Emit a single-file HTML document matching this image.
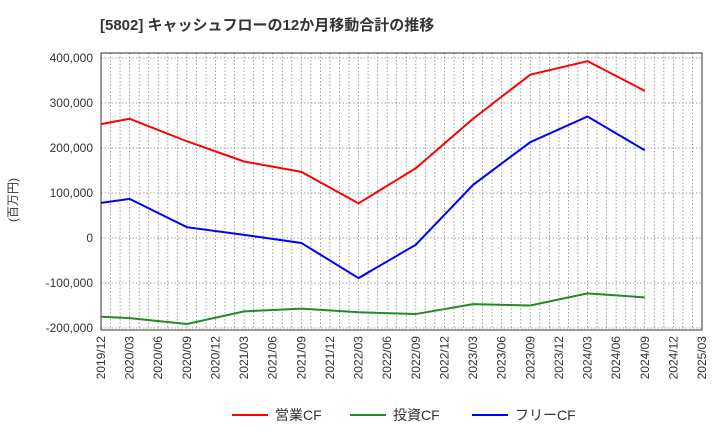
<!DOCTYPE html>
<html><head><meta charset="utf-8"><style>
body{margin:0;background:#fff;font-family:"Liberation Sans","Noto Sans CJK JP",sans-serif;}
</style></head><body>
<svg width="720" height="440" xmlns="http://www.w3.org/2000/svg" font-family="Liberation Sans, Noto Sans CJK JP, sans-serif">
<text x="100" y="30" font-size="15" font-weight="bold" fill="#333">[5802]  キャッシュフローの12か月移動合計の推移</text>
<g id="grid"></g><g id="axes"></g><g id="series"></g><g id="legend"></g>
</svg>
<script>
const categories=["2019/12","2020/03","2020/06","2020/09","2020/12","2021/03","2021/06","2021/09","2021/12","2022/03","2022/06","2022/09","2022/12","2023/03","2023/06","2023/09","2023/12","2024/03","2024/06","2024/09","2024/12","2025/03"];
const dataIdx=[0,1,3,5,7,9,11,13,15,17,19];
const operatingCF=[253000,265000,215000,170000,147000,77000,155000,265000,363000,393000,327000];
const investingCF=[-175000,-178000,-191000,-163000,-157000,-165000,-169000,-147000,-150000,-123000,-132000];
const freeCF=[78000,87000,24000,7000,-11000,-89000,-15000,118000,213000,270000,195000];
const yTicks=[400000,300000,200000,100000,0,-100000,-200000];
const seriesNames=["営業CF","投資CF","フリーCF"];
const colors=["#ff0000","#228b22","#0000ff"];
const NS="http://www.w3.org/2000/svg";
const L=101,R=702,T=53,B=330;
const X=i=>L+(R-L)*i/21;
const Y=v=>238-v*0.00045;
function mk(tag,attrs,parent){const e=document.createElementNS(NS,tag);for(const k in attrs)e.setAttribute(k,attrs[k]);document.getElementById(parent).appendChild(e);return e;}
for(let m=1;m<63;m++){const x=L+(R-L)*m/63;
const g=mk('line',{x1:x,x2:x,y1:T,y2:B,stroke:'#888','stroke-width':0.8,'stroke-dasharray':'1.5,2'},'grid');

}
yTicks.forEach(v=>{const y=Y(v);
const g=mk('line',{x1:L,x2:R,y1:y,y2:y,stroke:'#888','stroke-width':0.8,'stroke-dasharray':'1.5,2'},'grid');


const t=mk('text',{x:L-8,y:y+4,'text-anchor':'end','font-size':12,fill:'#333'},'axes');t.textContent=v.toLocaleString('en-US');

});
const fr=mk('rect',{x:L,y:T,width:R-L,height:B-T,fill:'none',stroke:'#333','stroke-width':1},'axes');


categories.forEach((c,i)=>{const x=X(i);
const t=mk('text',{x:x+4,y:B+6,'text-anchor':'end','font-size':12,fill:'#333',transform:`rotate(-90 ${x+4} ${B+6})`},'axes');t.textContent=c;

});
const yt=mk('text',{x:17,y:200,'text-anchor':'middle','font-size':12,fill:'#333',transform:'rotate(-90 17 200)'},'axes');yt.textContent='(百万円)';


[operatingCF,investingCF,freeCF].forEach((s,k)=>{
const p=mk('polyline',{points:s.map((v,j)=>X(dataIdx[j])+','+Y(v)).join(' '),fill:'none',stroke:colors[k],'stroke-width':2},'series');


const lx=[232,350,472][k];
const ll=mk('line',{x1:lx,x2:lx+36,y1:415,y2:415,stroke:colors[k],'stroke-width':2},'legend');


const lt=mk('text',{x:lx+43,y:420,'font-size':14,fill:'#333'},'legend');lt.textContent=seriesNames[k];

});
</script>
</body></html>
